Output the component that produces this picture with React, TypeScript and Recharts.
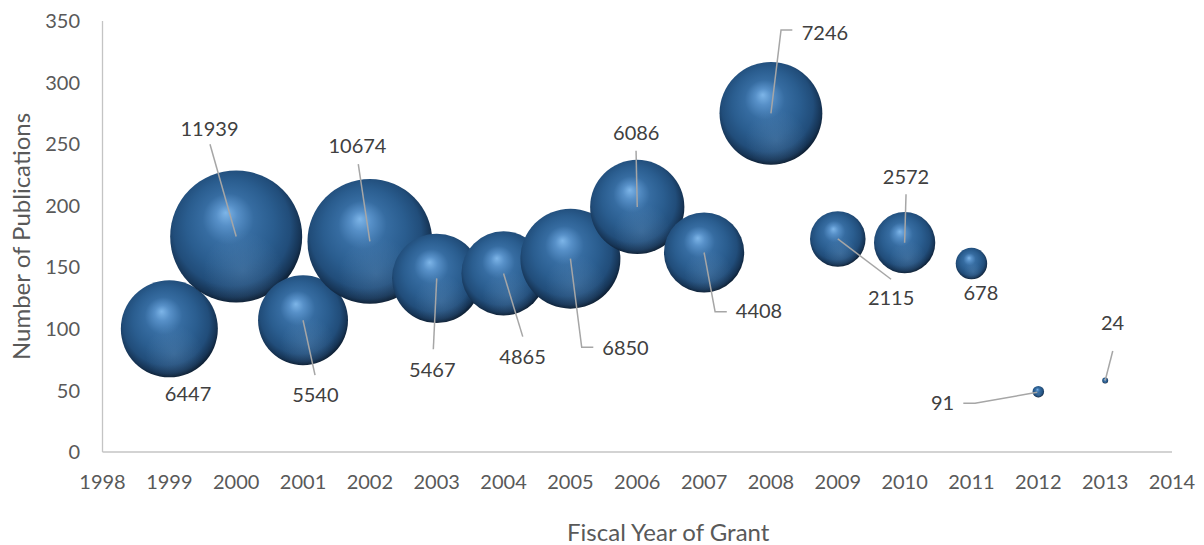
import React from 'react';
import { ScatterChart, Scatter, XAxis, YAxis, ZAxis, Label } from 'recharts';

// ---- data ----
const years = [1999, 2000, 2001, 2002, 2003, 2004, 2005, 2006, 2007, 2008, 2009, 2010, 2011, 2012, 2013];
const publications = [100, 175, 107, 171, 141, 145, 157, 199, 162, 275, 173, 170, 153, 49, 58];
const grants = [6447, 11939, 5540, 10674, 5467, 4865, 6850, 6086, 4408, 7246, 2115, 2572, 678, 91, 24];
const xTicks = [1998, 1999, 2000, 2001, 2002, 2003, 2004, 2005, 2006, 2007, 2008, 2009, 2010, 2011, 2012, 2013, 2014];
const yTicks = [0, 50, 100, 150, 200, 250, 300, 350];

// label placement (offsets from bubble centre, px) and leader lines
type LabelLayout = { dx: number; dy: number; anchor: 'start' | 'middle' | 'end'; line: number[][] | null };
const labelLayout: LabelLayout[] = [
  { dx: 18.7, dy: 64.9, anchor: 'middle', line: null },
  { dx: -26.7, dy: -107.3, anchor: 'middle', line: [[-26.2, -92.2], [0, 0]] },
  { dx: 12.3, dy: 74.1, anchor: 'middle', line: [[12, 54.8], [0, 0]] },
  { dx: -12.4, dy: -95.9, anchor: 'middle', line: [[-11.6, -77.4], [0, 0]] },
  { dx: -4.4, dy: 91.1, anchor: 'middle', line: [[-3.4, 70.9], [0, 0]] },
  { dx: 19, dy: 83.2, anchor: 'middle', line: [[19.2, 63.2], [0, 0]] },
  { dx: 31.9, dy: 89.3, anchor: 'start', line: [[22.9, 88.6], [11.3, 88.6], [0, 0]] },
  { dx: -1, dy: -74.2, anchor: 'middle', line: [[-1.2, -56.3], [0, 0]] },
  { dx: 31.7, dy: 58.7, anchor: 'start', line: [[22.7, 59.2], [11, 59.2], [0, 0]] },
  { dx: 30.8, dy: -80.9, anchor: 'start', line: [[21.4, -83.4], [10.1, -83.4], [0, 0]] },
  { dx: 53.3, dy: 59.3, anchor: 'middle', line: [[53.3, 40.3], [0, 0]] },
  { dx: 1.4, dy: -66, anchor: 'middle', line: [[1.4, -48.4], [0, 0]] },
  { dx: 9.4, dy: 28.9, anchor: 'middle', line: null },
  { dx: -95.8, dy: 11.6, anchor: 'middle', line: [[-75, 11.6], [-63.3, 11.6], [-1, 0.6]] },
  { dx: 7.4, dy: -57.4, anchor: 'middle', line: [[7.6, -29.6], [0, 0]] },
];

const data = years.map((year, i) => ({ year, pubs: publications[i], grants: grants[i], idx: i }));
const maxGrant = Math.max(...grants);
const MAX_R = 66;

const FONT = 'Lato, "Open Sans", sans-serif';

const Bubble = (props: any) => {
  const { cx, cy, payload } = props;
  if (cx == null || cy == null) return null;
  const r = props.size != null ? Math.sqrt(props.size / Math.PI) : (props.width || 0) / 2;
  const id = `bub-${payload.year}`;
  return (
    <g>
      <defs>
        <radialGradient id={`${id}-a`} cx="48%" cy="46%" r="57%" fx="42%" fy="32%">
          <stop offset="0%" stopColor="#7db5e8" />
          <stop offset="14%" stopColor="#5790c8" />
          <stop offset="34%" stopColor="#366ca1" />
          <stop offset="58%" stopColor="#2a5d8f" />
          <stop offset="78%" stopColor="#214d7a" />
          <stop offset="90%" stopColor="#163455" />
          <stop offset="100%" stopColor="#060f1a" />
        </radialGradient>
        <radialGradient id={`${id}-b`} cx="55%" cy="76%" r="30%">
          <stop offset="0%" stopColor="#8fb8e0" stopOpacity="0.2" />
          <stop offset="100%" stopColor="#8fb8e0" stopOpacity="0" />
        </radialGradient>
      </defs>
      <circle cx={cx} cy={cy} r={r} fill={`url(#${id}-a)`} />
      <circle cx={cx} cy={cy} r={r} fill={`url(#${id}-b)`} />
    </g>
  );
};

const BubbleLabel = (props: any) => {
  const { cx, cy, payload } = props;
  if (cx == null || cy == null) return null;
  const lay = labelLayout[payload.idx];
  return (
    <g>
      {lay.line && (
        <polyline
          points={lay.line.map(([x, y]) => `${cx + x},${cy + y}`).join(' ')}
          fill="none"
          stroke="#a6a6a6"
          strokeWidth={1.5}
        />
      )}
      <text
        x={cx + lay.dx}
        y={cy + lay.dy}
        dy="0.36em"
        textAnchor={lay.anchor}
        fill="#404040"
        fontSize={20}
        fontFamily={FONT}
      >
        {payload.grants}
      </text>
    </g>
  );
};

const XTitle = (props: any) => {
  const vb = props.viewBox || {};
  return (
    <text x={vb.x + vb.width / 2 + 31} y={vb.y + vb.height - 4} textAnchor="middle" fill="#595959" fontSize={24} fontFamily={FONT}>
      Fiscal Year of Grant
    </text>
  );
};

const YTitle = (props: any) => {
  const vb = props.viewBox || {};
  const x = vb.x + 21.5;
  const y = vb.y + vb.height / 2;
  return (
    <text x={x} y={y} dy="0.355em" transform={`rotate(-90 ${x} ${y})`} textAnchor="middle" fill="#595959" fontSize={24} fontFamily={FONT}>
      Number of Publications
    </text>
  );
};

const tickStyle = { fill: '#595959', fontSize: 20, fontFamily: FONT };

export default function App() {
  return (
    <div style={{ position: 'absolute', left: 0, top: 0, background: '#fff' }}>
      <ScatterChart width={1204} height={545} margin={{ top: 21, right: 32, bottom: 0, left: 0 }}>
        <XAxis
          type="number"
          dataKey="year"
          domain={[1998, 2014]}
          ticks={xTicks}
          interval={0}
          tickLine={false}
          tickSize={0}
          tickMargin={23}
          height={93}
          axisLine={{ stroke: '#c4c4c4', strokeWidth: 1.3 }}
          tick={tickStyle}
          allowDecimals={false}
        >
          <Label content={XTitle} />
        </XAxis>
        <YAxis
          type="number"
          dataKey="pubs"
          domain={[0, 350]}
          ticks={yTicks}
          interval={0}
          tickLine={false}
          tickSize={0}
          tickMargin={22.5}
          width={102.5}
          axisLine={{ stroke: '#c4c4c4', strokeWidth: 1.3 }}
          tick={tickStyle}
        >
          <Label content={YTitle} />
        </YAxis>
        <ZAxis type="number" dataKey="grants" domain={[0, maxGrant]} range={[0, Math.PI * MAX_R * MAX_R]} />
        <Scatter data={data} shape={Bubble} isAnimationActive={false} />
        <Scatter data={data} shape={BubbleLabel} isAnimationActive={false} />
      </ScatterChart>
    </div>
  );
}
